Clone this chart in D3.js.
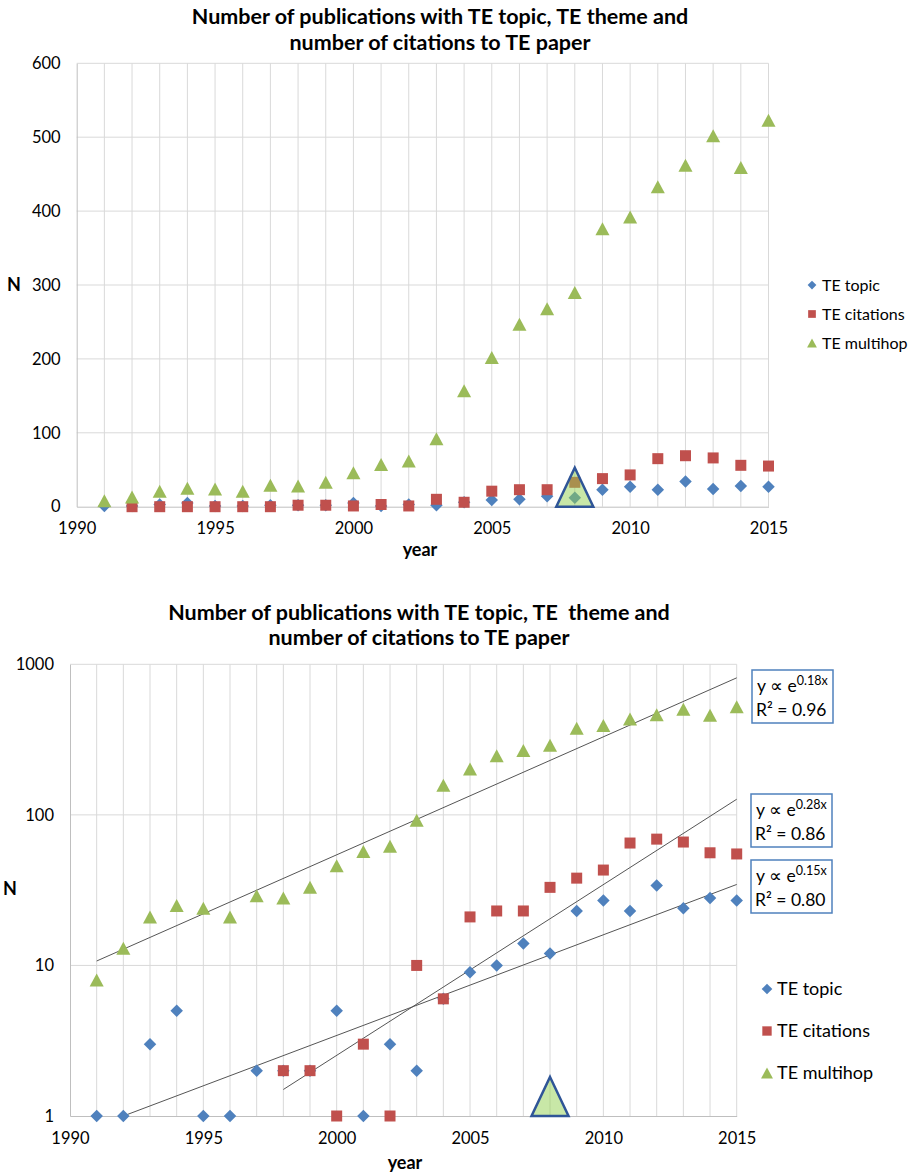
<!DOCTYPE html>
<html>
<head>
<meta charset="utf-8">
<script src="https://cdn.jsdelivr.net/npm/d3@7"></script>
<style>
  body { margin: 0; background: #fff; }
  .chart { width: 917px; height: 1172px; }
  text { font-family: Lato, "Open Sans", sans-serif; fill: #000; }
  .title { font-weight: bold; white-space: pre; }
</style>
</head>
<body>
<div class="chart"></div>
<script>
// values
var years = [1991, 1992, 1993, 1994, 1995, 1996, 1997, 1998, 1999, 2000, 2001, 2002, 2003,
             2004, 2005, 2006, 2007, 2008, 2009, 2010, 2011, 2012, 2013, 2014, 2015];
var teTopic = [1, 1, 3, 5, 1, 1, 2, 2, 2, 5, 1, 3, 2, 6, 9, 10, 14, 12, 23, 27, 23, 34, 24, 28, 27];
var teCitations = [null, 0, 0, 0, 0, 0, 0, 2, 2, 1, 3, 1, 10, 6, 21, 23, 23, 33, 38, 43, 65, 69, 66, 56, 55];
var teMultihop = [8, 13, 21, 25, 24, 21, 29, 28, 33, 46, 57, 62, 92, 157, 202, 247, 268, 290, 376, 392, 433, 462, 502, 459, 523];
var seriesNames = ['TE topic', 'TE citations', 'TE multihop'];

var yearTicks = [1990, 1995, 2000, 2005, 2010, 2015];
var linearTicks = [0, 100, 200, 300, 400, 500, 600];
var logTicks = [1, 10, 100, 1000];

var titleLines1 = ['Number of publications with TE topic, TE theme and', 'number of citations to TE paper'];
var titleLines2 = ['Number of publications with TE topic, TE  theme and', 'number of citations to TE paper'];

// exponential trend lines (endpoints) and their labels
var trendSeries = ['TE multihop', 'TE citations', 'TE topic'];
var trendYears = [[1991, 2015], [1998, 2015], [1992, 2015]];
var trendValues = [[10.7, 813], [1.5, 127], [1, 34.5]];
var trendExponents = ['0.18', '0.28', '0.15'];
var trendR2 = ['0.96', '0.86', '0.80'];

var highlightYear = 2008;

;(function(window, document, undefined) {

	'use strict';

	var colors = { 'TE topic': '#4f81bd', 'TE citations': '#c0504d', 'TE multihop': '#9bbb59' };
	var shapes = { 'TE topic': 'diamond', 'TE citations': 'square', 'TE multihop': 'triangle' };
	var seriesValues = { 'TE topic': teTopic, 'TE citations': teCitations, 'TE multihop': teMultihop };

	function init() {
		var svg = d3.select('.chart')
			.append('svg')
			.attr('width', 917)
			.attr('height', 1172);

		render(svg, {
			log: false, left: 76.7, right: 768.5, top: 63.3, bottom: 506.7,
			title: titleLines1, titleX: 440, titleY: [24, 50], titleSize: 21.5,
			nX: 14, nY: 285, yearX: 420, yearY: 556,
			legendX: 812, legendY: [285, 314, 343], legendSize: 16, legendMarker: 0.7
		});
		render(svg, {
			log: true, left: 70, right: 736.7, top: 664.3, bottom: 1116,
			title: titleLines2, titleX: 419, titleY: [620, 645], titleSize: 21.5,
			nX: 10, nY: 889, yearX: 405, yearY: 1169,
			legendX: 767, legendY: [989, 1031, 1073], legendSize: 18, legendMarker: 0.85,
			boxes: [[752, 670], [751, 794], [751, 860]]
		});
	}

	function markerPath(shape, s) {
		var h = s / 2;
		if (shape === 'diamond') {
			return 'M0,' + (-h) + 'L' + h + ',0L0,' + h + 'L' + (-h) + ',0Z';
		}
		if (shape === 'square') {
			return 'M' + (-h) + ',' + (-h) + 'h' + s + 'v' + s + 'h' + (-s) + 'Z';
		}
		return 'M0,' + (-h) + 'L' + (h * 1.08) + ',' + h + 'L' + (-h * 1.08) + ',' + h + 'Z';
	}

	var markerSize = { diamond: 12.5, square: 11, triangle: 13 };

	function render(svg, o) {
		var g = svg.append('g');
		var x = d3.scaleLinear().domain([1990, 2015]).range([o.left, o.right]);
		var y = o.log
			? d3.scaleLog().domain([1, 1000]).range([o.bottom, o.top])
			: d3.scaleLinear().domain([0, 600]).range([o.bottom, o.top]);
		var yTicks = o.log ? logTicks : linearTicks;

		// grid
		g.append('g').selectAll('line')
			.data(years)
			.enter()
			.append('line')
			.attr('x1', x).attr('x2', x)
			.attr('y1', o.top).attr('y2', o.bottom)
			.attr('stroke', '#d9d9d9');
		g.append('g').selectAll('line')
			.data(yTicks.slice(1))
			.enter()
			.append('line')
			.attr('x1', o.left).attr('x2', o.right)
			.attr('y1', y).attr('y2', y)
			.attr('stroke', '#d9d9d9');

		// axes
		var xAxis = g.append('g')
			.attr('transform', 'translate(0,' + o.bottom + ')')
			.call(d3.axisBottom(x).tickValues(yearTicks).tickSize(0).tickPadding(16).tickFormat(d3.format('d')));
		var yAxis = g.append('g')
			.attr('transform', 'translate(' + o.left + ',0)')
			.call(d3.axisLeft(y).tickValues(yTicks).tickSize(0).tickPadding(16).tickFormat(d3.format('d')));
		[xAxis, yAxis].forEach(function(a) {
			a.attr('font-family', null).attr('font-size', null);
			a.select('.domain').attr('stroke', '#bfbfbf');
			a.selectAll('text').attr('font-size', 16.5).attr('fill', '#000');
		});

		// titles
		g.selectAll('text.title')
			.data(o.title)
			.enter()
			.append('text')
			.attr('class', 'title')
			.attr('x', o.titleX)
			.attr('y', function(d, i) { return o.titleY[i]; })
			.attr('text-anchor', 'middle')
			.attr('font-size', o.titleSize)
			.text(function(d) { return d; });
		g.append('text')
			.attr('x', o.nX).attr('y', o.nY)
			.attr('text-anchor', 'middle').attr('dy', '0.35em')
			.attr('font-weight', 'bold').attr('font-size', 18)
			.text('N');
		g.append('text')
			.attr('x', o.yearX).attr('y', o.yearY)
			.attr('text-anchor', 'middle')
			.attr('font-weight', 'bold').attr('font-size', 18)
			.text('year');

		// trend lines under the markers
		if (o.log) {
			trendSeries.forEach(function(name, i) {
				g.append('line')
					.attr('x1', x(trendYears[i][0])).attr('y1', y(trendValues[i][0]))
					.attr('x2', x(trendYears[i][1])).attr('y2', y(trendValues[i][1]))
					.attr('stroke', '#555')
					.attr('stroke-width', 1);
			});
		}

		// markers
		seriesNames.forEach(function(name) {
			var vals = seriesValues[name];
			var pts = years.map(function(yr, i) {
				return { year: yr, value: vals[i] };
			}).filter(function(d) {
				return d.value !== null && (!o.log || d.value > 0);
			});
			g.append('g').selectAll('path')
				.data(pts)
				.enter()
				.append('path')
				.attr('d', markerPath(shapes[name], markerSize[shapes[name]]))
				.attr('transform', function(d) {
					return 'translate(' + x(d.year) + ',' + y(d.value) + ')';
				})
				.attr('fill', colors[name]);
		});

		// highlighted year
		var hx = x(highlightYear);
		var hy = y(o.log ? 1 : 0);
		g.append('path')
			.attr('d', 'M' + hx + ',' + (hy - 39) + 'L' + (hx + 18.5) + ',' + hy + 'L' + (hx - 18.5) + ',' + hy + 'Z')
			.attr('fill', '#92d050')
			.attr('fill-opacity', 0.5)
			.attr('stroke', '#2f5597')
			.attr('stroke-width', 2.5)
			.attr('stroke-linejoin', 'miter');

		// legend
		var leg = g.append('g').selectAll('g')
			.data(seriesNames)
			.enter()
			.append('g')
			.attr('transform', function(d, i) {
				return 'translate(' + o.legendX + ',' + o.legendY[i] + ')';
			});
		leg.append('path')
			.attr('d', function(d) {
				return markerPath(shapes[d], markerSize[shapes[d]] * o.legendMarker);
			})
			.attr('fill', function(d) { return colors[d]; });
		leg.append('text')
			.attr('x', 10)
			.attr('dy', '0.35em')
			.attr('font-size', o.legendSize)
			.text(function(d) { return d; });

		// fit labels
		if (o.boxes) {
			o.boxes.forEach(function(b, i) {
				var bg = g.append('g').attr('transform', 'translate(' + b[0] + ',' + b[1] + ')');
				bg.append('rect')
					.attr('width', 81).attr('height', 53)
					.attr('fill', '#fff')
					.attr('stroke', '#4f81bd')
					.attr('stroke-width', 1.5);
				var t1 = bg.append('text').attr('x', 5).attr('y', 22).attr('font-size', 17.5);
				t1.append('tspan').text('y \u221d e');
				t1.append('tspan').attr('font-size', 12.5).attr('dy', -7).text(trendExponents[i] + 'x');
				bg.append('text').attr('x', 4).attr('y', 46).attr('font-size', 17.5)
					.text('R\u00b2 = ' + trendR2[i]);
			});
		}
	}

	init();

})(window, document);
</script>
</body>
</html>
